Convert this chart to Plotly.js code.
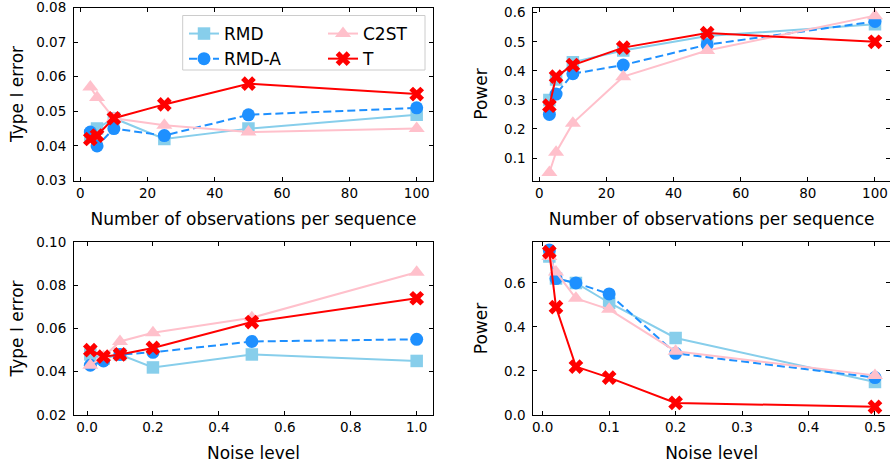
<!DOCTYPE html>
<html>
<head>
<meta charset="utf-8">
<script src="https://cdn.plot.ly/plotly-3.0.1.min.js"></script>
<style>html,body{margin:0;padding:0;background:#fff;}#chart{width:890px;height:465px;}</style>
</head>
<body>
<div id="chart"></div>
<script>
// ---- data ----
const nObs = [3, 5, 10, 25, 50, 100];
const noiseT1 = [0.01, 0.05, 0.1, 0.2, 0.5, 1.0];
const noisePow = [0.01, 0.02, 0.05, 0.1, 0.2, 0.5];

const t1n_RMD   = [0.043, 0.045, 0.048, 0.042, 0.045, 0.049];
const t1n_RMDA  = [0.044, 0.040, 0.045, 0.043, 0.049, 0.051];
const t1n_C2ST  = [0.057, 0.054, 0.048, 0.046, 0.044, 0.045];
const t1n_T     = [0.042, 0.043, 0.048, 0.052, 0.058, 0.055];

const pwn_RMD   = [0.30, 0.37, 0.43, 0.47, 0.52, 0.56];
const pwn_RMDA  = [0.25, 0.32, 0.39, 0.42, 0.49, 0.57];
const pwn_C2ST  = [0.05, 0.12, 0.22, 0.38, 0.47, 0.59];
const pwn_T     = [0.28, 0.38, 0.42, 0.48, 0.53, 0.50];

const t1s_RMD   = [0.048, 0.046, 0.048, 0.042, 0.048, 0.045];
const t1s_RMDA  = [0.043, 0.045, 0.048, 0.049, 0.054, 0.055];
const t1s_C2ST  = [0.043, 0.047, 0.054, 0.058, 0.065, 0.086];
const t1s_T     = [0.050, 0.047, 0.048, 0.051, 0.063, 0.074];

const pws_RMD   = [0.72, 0.62, 0.60, 0.51, 0.35, 0.15];
const pws_RMDA  = [0.75, 0.62, 0.60, 0.55, 0.28, 0.17];
const pws_C2ST  = [0.72, 0.65, 0.53, 0.48, 0.29, 0.18];
const pws_T     = [0.74, 0.49, 0.22, 0.17, 0.055, 0.037];

const methodNames = ['RMD', 'RMD-A', 'C2ST', 'T'];

// ---- styles ----
const styles = {
  'RMD':   {color: '#87CEEB', symbol: 'square', size: 12.5, dash: 'solid', legend: 'legend'},
  'RMD-A': {color: '#1E90FF', symbol: 'circle', size: 13, dash: '8px,4px', legend: 'legend'},
  'C2ST':  {color: '#FFC0CB', symbol: 'triangle-up', size: 14, dash: 'solid', legend: 'legend2'},
  'T':     {color: '#FF0000', symbol: 'x', size: 13, dash: 'solid', legend: 'legend2'}
};

function mk(name, x, y, xa, ya, showleg) {
  const s = styles[name];
  return {
    type: 'scatter', mode: 'lines+markers', name: name, x: x, y: y,
    xaxis: xa, yaxis: ya, showlegend: showleg, legend: s.legend,
    line: {color: s.color, width: 2, dash: s.dash},
    marker: {color: s.color, symbol: s.symbol, size: s.size, line: {width: 0}},
    hoverinfo: 'x+y+name'
  };
}

const panels = [
  {xa: 'x',  ya: 'y',  x: nObs,     ys: [t1n_RMD, t1n_RMDA, t1n_C2ST, t1n_T], leg: true},
  {xa: 'x2', ya: 'y2', x: nObs,     ys: [pwn_RMD, pwn_RMDA, pwn_C2ST, pwn_T], leg: false},
  {xa: 'x3', ya: 'y3', x: noiseT1,  ys: [t1s_RMD, t1s_RMDA, t1s_C2ST, t1s_T], leg: false},
  {xa: 'x4', ya: 'y4', x: noisePow, ys: [pws_RMD, pws_RMDA, pws_C2ST, pws_T], leg: false}
];

const data = [];
panels.forEach(p => {
  methodNames.forEach((m, i) => data.push(mk(m, p.x, p.ys[i], p.xa, p.ya, p.leg)));
});

const W = 890, H = 465;
const FONT = 'DejaVu Sans, sans-serif';
function ax(extra) {
  return Object.assign({
    showline: true, linecolor: '#000', linewidth: 1, mirror: 'ticks',
    ticks: 'inside', ticklen: 4, tickwidth: 1, tickcolor: '#000',
    showgrid: false, zeroline: false, automargin: false, ticklabeloverflow: 'allow',
    tickfont: {family: FONT, size: 13.5, color: '#000'}
  }, extra);
}
function axTitle(t, so) { return {text: t, font: {family: FONT, size: 17, color: '#000'}, standoff: so}; }

const domTop = [1 - 180.5 / H, 1 - 7.5 / H];
const domBot = [1 - 415 / H, 1 - 242 / H];
const domLeft = [74 / W, 433 / W];
const domRight = [533.3 / W, 1];

const layout = {
  width: W, height: H,
  margin: {l: 0, r: 0, t: 0, b: 0},
  paper_bgcolor: '#fff', plot_bgcolor: '#fff',
  font: {family: FONT, color: '#000'},
  xaxis:  ax({domain: domLeft,  anchor: 'y',  range: [-1.85, 104.85], tickvals: [0,20,40,60,80,100], title: axTitle('Number of observations per sequence', 13)}),
  yaxis:  ax({domain: domTop,   anchor: 'x',  range: [0.03, 0.08002], tickvals: [0.03,0.04,0.05,0.06,0.07,0.08], tickformat: '.2f', ticklabelstandoff: 4, title: axTitle('Type I error', 8)}),
  xaxis2: ax({domain: domRight, anchor: 'y2', range: [-1.79, 104.47], tickvals: [0,20,40,60,80,100], title: axTitle('Number of observations per sequence', 13)}),
  yaxis2: ax({domain: domTop,   anchor: 'x2', range: [0.0226, 0.618], tickvals: [0.1,0.2,0.3,0.4,0.5,0.6], tickformat: '.1f', ticklabelstandoff: 4, title: axTitle('Power', 12)}),
  xaxis3: ax({domain: domLeft,  anchor: 'y3', range: [-0.0395, 1.0495], tickvals: [0,0.2,0.4,0.6,0.8,1.0], tickformat: '.1f', title: axTitle('Noise level', 12.5)}),
  yaxis3: ax({domain: domBot,   anchor: 'x3', range: [0.02, 0.10002], tickvals: [0.02,0.04,0.06,0.08,0.10], tickformat: '.2f', ticklabelstandoff: 4, title: axTitle('Type I error', 8)}),
  xaxis4: ax({domain: domRight, anchor: 'y4', range: [-0.01414, 0.5226], tickvals: [0,0.1,0.2,0.3,0.4,0.5], tickformat: '.1f', title: axTitle('Noise level', 12.5)}),
  yaxis4: ax({domain: domBot,   anchor: 'x4', range: [0.0, 0.786], tickvals: [0,0.2,0.4,0.6], tickformat: '.1f', ticklabelstandoff: 4, title: axTitle('Power', 12)}),
  legend: {x: 184 / W, y: 1 - 16 / H, xanchor: 'left', yanchor: 'top', bgcolor: 'rgba(0,0,0,0)', borderwidth: 0,
           font: {family: FONT, size: 17, color: '#000'}, tracegroupgap: 0},
  legend2: {x: 323 / W, y: 1 - 16 / H, xanchor: 'left', yanchor: 'top', bgcolor: 'rgba(0,0,0,0)', borderwidth: 0,
           font: {family: FONT, size: 17, color: '#000'}, tracegroupgap: 0},
  shapes: [{type: 'rect', xref: 'paper', yref: 'paper', layer: 'below',
            x0: 182.7 / W, x1: 425 / W, y0: 1 - 70 / H, y1: 1 - 15.5 / H,
            fillcolor: 'rgba(255,255,255,0.8)', line: {color: '#cccccc', width: 1}}]
};

Plotly.newPlot('chart', data, layout, {displayModeBar: false, staticPlot: true});
</script>
</body>
</html>
